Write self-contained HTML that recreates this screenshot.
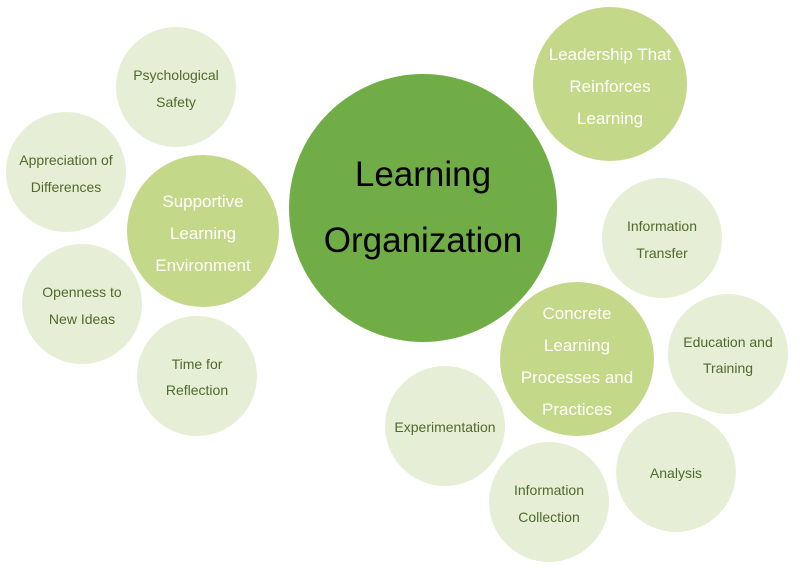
<!DOCTYPE html>
<html><head><meta charset="utf-8"><style>
html,body{margin:0;padding:0;background:#fff;}
svg{display:block;font-family:"Liberation Sans",sans-serif;}
.s{fill:#E6EFD6}.m{fill:#C3D888}
.ts{fill:#4F6A2C;font-size:14px;text-anchor:middle}
.tm{fill:#fff;font-size:17px;text-anchor:middle}
</style></head><body>
<svg width="800" height="568" viewBox="0 0 800 568">
<circle cx="423" cy="208" r="134" fill="#70AD47"/>
<text x="423" y="186" font-size="35" text-anchor="middle" fill="#000">Learning</text>
<text x="423" y="252" font-size="35" text-anchor="middle" fill="#000">Organization</text>

<circle class="m" cx="610" cy="84" r="77"/>
<text class="tm" x="610" y="60">Leadership That</text>
<text class="tm" x="610" y="92">Reinforces</text>
<text class="tm" x="610" y="124">Learning</text>

<circle class="m" cx="203" cy="231" r="76"/>
<text class="tm" x="203" y="207">Supportive</text>
<text class="tm" x="203" y="239">Learning</text>
<text class="tm" x="203" y="271">Environment</text>

<circle class="m" cx="577" cy="359" r="77"/>
<text class="tm" x="577" y="319">Concrete</text>
<text class="tm" x="577" y="351">Learning</text>
<text class="tm" x="577" y="383">Processes and</text>
<text class="tm" x="577" y="415">Practices</text>

<circle class="s" cx="176" cy="87" r="60"/>
<text class="ts" x="176" y="80">Psychological</text>
<text class="ts" x="176" y="107">Safety</text>

<circle class="s" cx="66" cy="172" r="60"/>
<text class="ts" x="66" y="165">Appreciation of</text>
<text class="ts" x="66" y="192">Differences</text>

<circle class="s" cx="82" cy="304" r="60"/>
<text class="ts" x="82" y="297">Openness to</text>
<text class="ts" x="82" y="324">New Ideas</text>

<circle class="s" cx="197" cy="376" r="60"/>
<text class="ts" x="197" y="369">Time for</text>
<text class="ts" x="197" y="395">Reflection</text>

<circle class="s" cx="662" cy="238" r="60"/>
<text class="ts" x="662" y="231">Information</text>
<text class="ts" x="662" y="258">Transfer</text>

<circle class="s" cx="728" cy="354" r="60"/>
<text class="ts" x="728" y="347">Education and</text>
<text class="ts" x="728" y="373">Training</text>

<circle class="s" cx="676" cy="472" r="60"/>
<text class="ts" x="676" y="478">Analysis</text>

<circle class="s" cx="549" cy="502" r="60"/>
<text class="ts" x="549" y="495">Information</text>
<text class="ts" x="549" y="522">Collection</text>

<circle class="s" cx="445" cy="426" r="60"/>
<text class="ts" x="445" y="432">Experimentation</text>
</svg>
</body></html>
